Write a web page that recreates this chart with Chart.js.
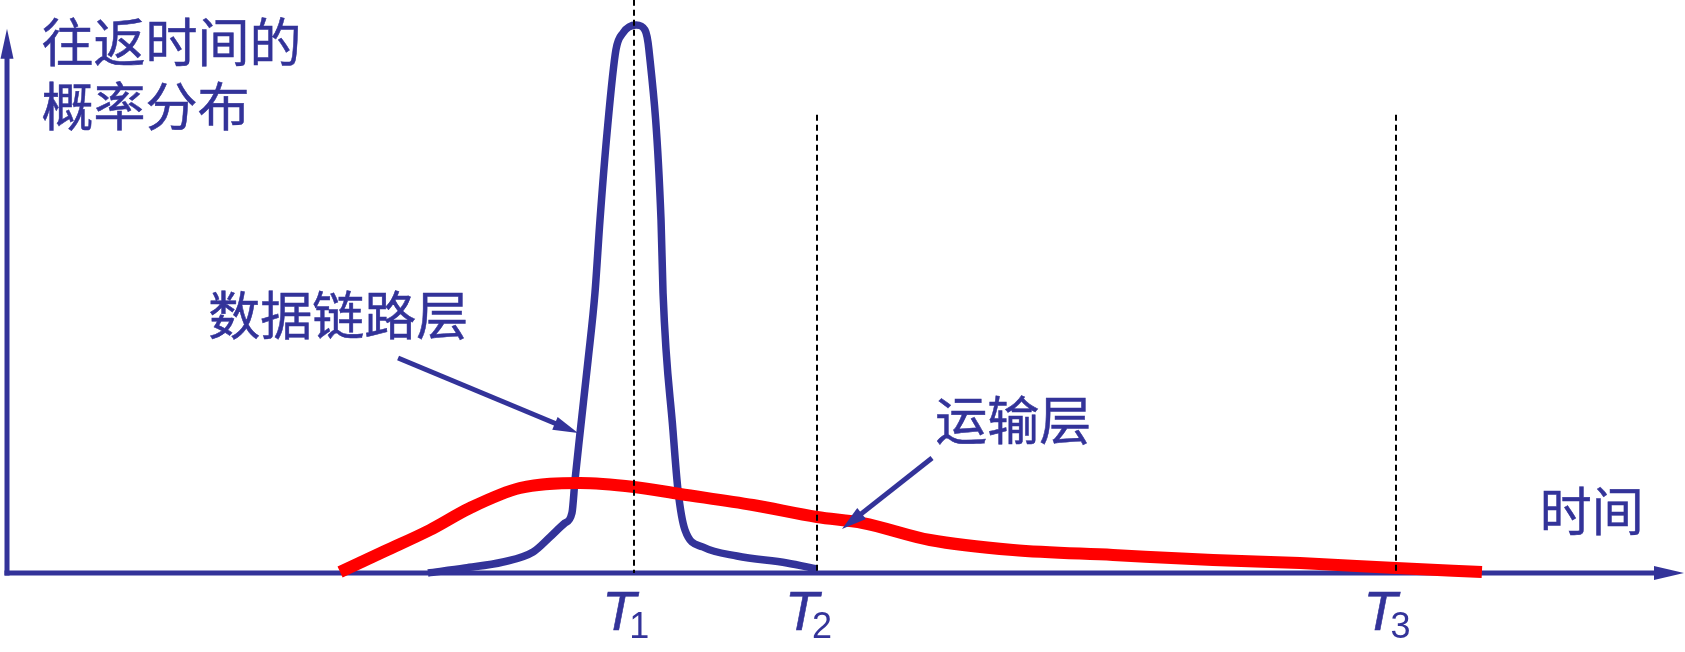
<!DOCTYPE html>
<html><head><meta charset="utf-8">
<script src="https://cdn.jsdelivr.net/npm/chart.js@4"></script>
<style>html,body{margin:0;padding:0;background:#fff}#wrap{position:relative;width:1685px;height:652px}</style>
</head><body><div id="wrap"><canvas id="c"></canvas></div>
<script>
// ---- data (time in arbitrary units 0..100, probability density 0..100) ----
const linkLayerX = [25.10, 27.31, 29.58, 31.37, 32.38, 33.27, 33.69, 33.87, 34.17, 34.65, 35.06, 35.36, 35.78, 36.31, 36.73, 37.51, 38.04, 38.28, 39.00, 39.12, 39.71, 40.01, 40.43, 41.50, 43.53, 46.51, 48.30];
const linkLayerY = [0, 0.91, 2.01, 3.83, 6.57, 9.12, 10.95, 16.97, 25.55, 38.87, 51.09, 64.42, 80.29, 95.44, 98.54, 100, 99.09, 95.44, 64.42, 51.09, 26.09, 15.15, 7.85, 4.74, 3.10, 1.82, 0.73];
const transportX = [19.86, 22.54, 25.22, 27.61, 30.59, 34.17, 37.39, 40.13, 44.48, 48.30, 51.04, 55.04, 59.99, 65.95, 71.91, 77.10, 82.83, 87.95];
const transportY = [0.18, 4.01, 7.85, 11.86, 15.51, 16.42, 15.69, 14.42, 12.41, 10.22, 9.12, 6.02, 4.20, 3.28, 2.37, 1.82, 0.91, 0.18];
const markTimes = [37.4, 48.3, 82.8];
const markTops = [104.6, 83.6, 83.6];
const markSubs = ['1', '2', '3'];
const yTitleLines = ['往返时间的', '概率分布'];
const xTitle = '时间';
const seriesNames = ['数据链路层', '运输层'];

const BLUE = '#333399', RED = '#ff0000';

function head(ctx, tx, ty, ang, L, W) {
  const c = Math.cos(ang), s = Math.sin(ang);
  const bx = tx - c * L, by = ty - s * L;
  ctx.beginPath(); ctx.moveTo(tx, ty);
  ctx.lineTo(bx - s * W, by + c * W);
  ctx.lineTo(bx + s * W, by - c * W);
  ctx.closePath(); ctx.fill();
}

const overlay = {
  id: 'overlay',
  beforeDatasetsDraw(chart, args, o) {
    const { ctx, scales: { x, y } } = chart;
    const x0 = x.getPixelForValue(0), y0 = y.getPixelForValue(0);
    const xe = x.getPixelForValue(100), ye = y.getPixelForValue(o.yAxisTop);
    ctx.save();
    ctx.strokeStyle = BLUE; ctx.fillStyle = BLUE; ctx.lineWidth = 5;
    ctx.beginPath(); ctx.moveTo(x0 - 2.5, y0); ctx.lineTo(xe - 20, y0); ctx.stroke();
    head(ctx, xe, y0, 0, 30, 7);
    ctx.beginPath(); ctx.moveTo(x0, y0 + 2.5); ctx.lineTo(x0, ye + 20); ctx.stroke();
    head(ctx, x0, ye, -Math.PI / 2, 30, 6.5);
    ctx.restore();
  },
  afterDatasetsDraw(chart, args, o) {
    const { ctx, scales: { x, y } } = chart;
    const y0 = y.getPixelForValue(0);
    ctx.save();
    // dashed time marks
    ctx.strokeStyle = '#000'; ctx.lineWidth = 2; ctx.setLineDash([6, 4]);
    markTimes.forEach((t, i) => {
      const px = Math.round(x.getPixelForValue(t));
      ctx.beginPath(); ctx.moveTo(px, y.getPixelForValue(markTops[i])); ctx.lineTo(px, y0); ctx.stroke();
    });
    ctx.setLineDash([]);
    // T labels
    ctx.fillStyle = BLUE; ctx.strokeStyle = BLUE; ctx.textAlign = 'left'; ctx.textBaseline = 'alphabetic';
    markTimes.forEach((t, i) => {
      const px = x.getPixelForValue(t);
      ctx.font = 'italic 55px "Liberation Sans", Arial, sans-serif';
      ctx.lineWidth = 0.6;
      ctx.fillText('T', px - 32, y0 + 57);
      ctx.strokeText('T', px - 32, y0 + 57);
      ctx.font = '36px "Liberation Sans", Arial, sans-serif';
      ctx.fillText(markSubs[i], px - 5, y0 + 65);
    });
    // pointer arrows
    ctx.lineWidth = 5;
    o.pointers.forEach(p => {
      const sx = x.getPixelForValue(p.from[0]), sy = y.getPixelForValue(p.from[1]);
      const tx = x.getPixelForValue(p.to[0]), ty = y.getPixelForValue(p.to[1]);
      const ang = Math.atan2(ty - sy, tx - sx);
      ctx.beginPath(); ctx.moveTo(sx, sy);
      ctx.lineTo(tx - Math.cos(ang) * 18, ty - Math.sin(ang) * 18); ctx.stroke();
      head(ctx, tx, ty, ang, 25, 7);
    });
    // texts
    ctx.font = '52px "Noto Sans CJK SC", sans-serif';
    ctx.textBaseline = 'middle';
    ctx.lineWidth = 0.5;
    o.labels.forEach(l => {
      const lx = x.getPixelForValue(l.at[0]), ly = y.getPixelForValue(l.at[1]);
      ctx.fillText(l.text, lx, ly);
      ctx.strokeText(l.text, lx, ly);
    });
    ctx.restore();
  }
};

new Chart(document.getElementById('c'), {
  type: 'line',
  data: {
    datasets: [
      { label: seriesNames[1], data: transportX.map((v, i) => ({ x: v, y: transportY[i] })),
        borderColor: RED, borderWidth: 12, pointRadius: 0, cubicInterpolationMode: 'monotone', clip: false, fill: false },
      { label: seriesNames[0], data: linkLayerX.map((v, i) => ({ x: v, y: linkLayerY[i] })),
        borderColor: BLUE, borderWidth: 7.5, pointRadius: 0, cubicInterpolationMode: 'monotone', clip: false, fill: false }
    ]
  },
  options: {
    responsive: true, maintainAspectRatio: false, animation: false, events: [],
    layout: { padding: { left: 7, right: 1, top: 25, bottom: 79 } },
    scales: {
      x: { type: 'linear', min: 0, max: 100, display: false },
      y: { type: 'linear', min: 0, max: 100, display: false }
    },
    plugins: {
      legend: { display: false }, tooltip: { enabled: false },
      overlay: {
        yAxisTop: 99.3,
        pointers: [
          { from: [23.32, 39.23], to: [34.05, 25.55] },
          { from: [55.16, 20.99], to: [49.79, 8.03] }
        ],
        labels: [
          { text: yTitleLines[0], at: [2.05, 96.8] },
          { text: yTitleLines[1], at: [2.05, 85.2] },
          { text: seriesNames[0], at: [12.0, 47.1] },
          { text: seriesNames[1], at: [55.35, 27.8] },
          { text: xTitle, at: [91.4, 11.3] }
        ]
      }
    }
  },
  plugins: [overlay]
});
</script>
</body></html>
